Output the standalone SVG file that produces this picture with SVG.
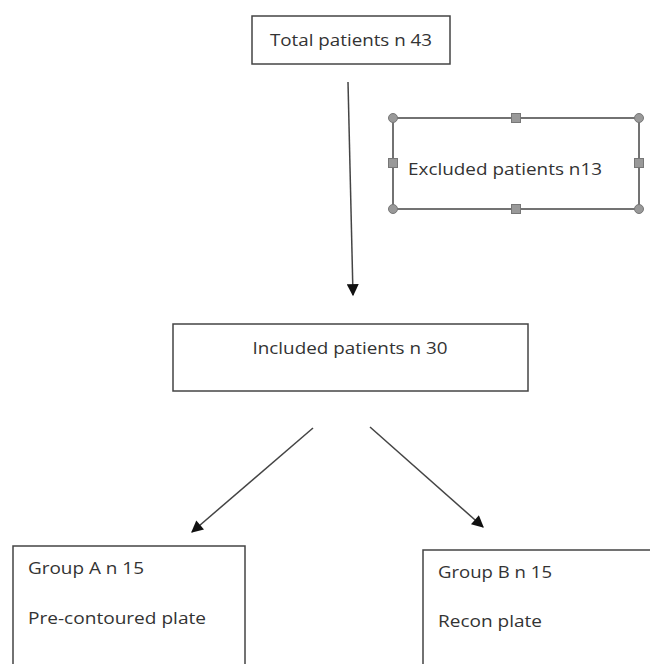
<svg xmlns="http://www.w3.org/2000/svg" width="650" height="664" viewBox="0 0 650 664">
<style>
.box{fill:#fff;stroke:#444;stroke-width:1.5}
.t{font-family:"Open Sans","Liberation Sans",sans-serif;font-size:16.5px;fill:#333}
.con{stroke:#444;stroke-width:1.5;fill:none}
.h{fill:#999;stroke:#777;stroke-width:1}
</style>
<defs>
<marker id="ah2" viewBox="0 0 10 10" refX="9" refY="5" markerWidth="13" markerHeight="12" markerUnits="userSpaceOnUse" orient="auto">
<path d="M0,0 L10,5 L0,10 z" fill="#111"/>
</marker>
</defs>
<rect width="650" height="664" fill="#fff"/>
<g id="connectors">
<line class="con" x1="348" y1="82" x2="353" y2="295" marker-end="url(#ah2)"/>
<line class="con" x1="313" y1="428" x2="192" y2="532" marker-end="url(#ah2)"/>
<line class="con" x1="370" y1="427" x2="483" y2="527" marker-end="url(#ah2)"/>
</g>
<g id="total">
<rect class="box" x="252" y="16" width="198" height="48"/>
<text class="t" x="351" y="46" text-anchor="middle" textLength="162" lengthAdjust="spacingAndGlyphs">Total patients n 43</text>
</g>
<g id="excluded">
<rect x="393" y="118" width="246" height="91" fill="#fff" stroke="#444" stroke-width="1.5"/>
<text class="t" x="408" y="175" textLength="194" lengthAdjust="spacingAndGlyphs">Excluded patients n13</text>
<circle class="h" cx="393" cy="118" r="4.5"/>
<circle class="h" cx="639" cy="118" r="4.5"/>
<circle class="h" cx="393" cy="209" r="4.5"/>
<circle class="h" cx="639" cy="209" r="4.5"/>
<rect class="h" x="511.5" y="113.5" width="9" height="9"/>
<rect class="h" x="511.5" y="204.5" width="9" height="9"/>
<rect class="h" x="388.5" y="158.5" width="9" height="9"/>
<rect class="h" x="634.5" y="158.5" width="9" height="9"/>
</g>
<g id="included">
<rect class="box" x="173" y="324" width="355" height="67"/>
<text class="t" x="350" y="354" text-anchor="middle" textLength="195" lengthAdjust="spacingAndGlyphs">Included patients n 30</text>
</g>
<g id="groupA">
<rect class="box" x="13" y="546" width="232" height="130"/>
<text class="t" x="28" y="574" textLength="116" lengthAdjust="spacingAndGlyphs">Group A n 15</text>
<text class="t" x="28" y="624" textLength="178" lengthAdjust="spacingAndGlyphs">Pre-contoured plate</text>
</g>
<g id="groupB">
<rect class="box" x="423" y="550" width="240" height="130"/>
<text class="t" x="438" y="578" textLength="114" lengthAdjust="spacingAndGlyphs">Group B n 15</text>
<text class="t" x="438" y="627" textLength="104" lengthAdjust="spacingAndGlyphs">Recon plate</text>
</g>
</svg>
